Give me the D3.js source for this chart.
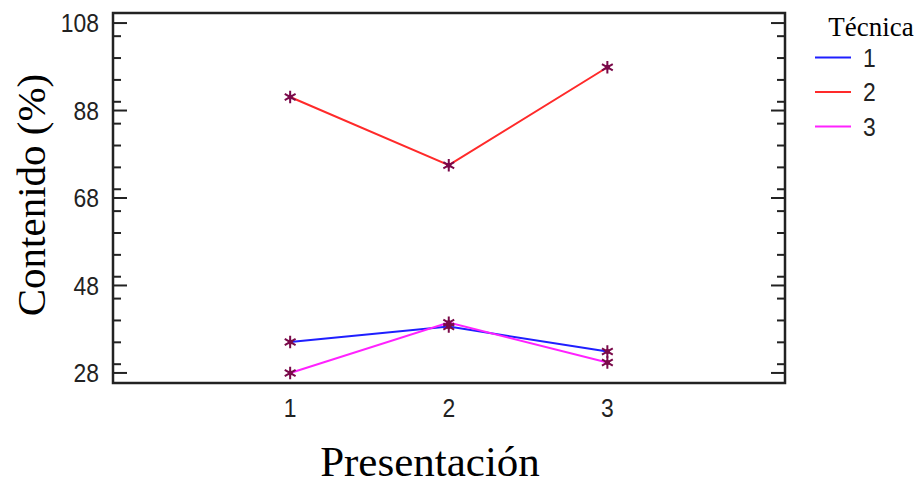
<!DOCTYPE html>
<html>
<head>
<meta charset="utf-8">
<script src="https://cdn.jsdelivr.net/npm/d3@7"></script>
<style>
  body { margin: 0; background: #fff; }
  svg { display: block; }
</style>
</head>
<body>
<div id="chart"></div>
<script>
// data
var presentaciones = [1, 2, 3];
var tecnicas = ["1", "2", "3"];
var tecnica1 = [35.1, 38.6, 32.9];
var tecnica2 = [91.1, 75.5, 97.9];
var tecnica3 = [28.0, 39.5, 30.4];
var yTicks = [28, 48, 68, 88, 108];
var colores = ["#1f1fff", "#ff2a2a", "#ff22ff"];

var series = [tecnica1, tecnica2, tecnica3];

var width = 920, height = 481;
var margin = { top: 13, right: 135, bottom: 98, left: 113 };
var w = width - margin.left - margin.right,
    h = height - margin.top - margin.bottom;

var sansFont = "Liberation Sans, Arial, sans-serif";
var serifFont = "Liberation Serif, Times New Roman, serif";

var svg = d3.select("#chart")
  .append("svg")
  .attr("width", width)
  .attr("height", height);

var g = svg.append("g")
  .attr("transform", "translate(" + margin.left + "," + margin.top + ")");

// scales
var x = d3.scaleLinear().domain([-0.117, 4.12]).range([0, w]);
var y = d3.scaleLinear().domain([25.7, 110.3]).range([h, 0]);

// minor ticks every 5
var minor = d3.range(30, 110, 5).filter(function (d) { return yTicks.indexOf(d) < 0; });

function ticks(cls, data, x1, x2) {
  g.selectAll("." + cls).data(data).enter().append("line")
    .attr("class", cls)
    .attr("x1", x1).attr("x2", x2)
    .attr("y1", function (d) { return y(d); }).attr("y2", function (d) { return y(d); })
    .attr("stroke", "#222").attr("stroke-width", 2);
}
// left + right axis ticks, pointing inward
ticks("tl-major", yTicks, 0, 14);
ticks("tl-minor", minor, 0, 8);
ticks("tr-major", yTicks, w, w - 14);
ticks("tr-minor", minor, w, w - 8);

// frame
g.append("rect")
  .attr("x", 0).attr("y", 0).attr("width", w).attr("height", h)
  .attr("fill", "none").attr("stroke", "#222").attr("stroke-width", 2.5);

// y tick labels (digits a bit narrow and tall, like the original)
g.selectAll(".ylab").data(yTicks).enter().append("text")
  .attr("transform", function (d) { return "translate(-14," + y(d) + ") scale(0.88,1)"; })
  .attr("dy", "0.36em")
  .attr("text-anchor", "end")
  .style("font-family", sansFont)
  .style("font-size", "26px")
  .style("fill", "#222")
  .text(function (d) { return d; });

// x tick labels
g.selectAll(".xlab").data(presentaciones).enter().append("text")
  .attr("transform", function (d) { return "translate(" + x(d) + "," + (h + 34) + ") scale(0.88,1)"; })
  .attr("text-anchor", "middle")
  .style("font-family", sansFont)
  .style("font-size", "26px")
  .style("fill", "#222")
  .text(function (d) { return d; });

// axis titles
svg.append("text")
  .attr("transform", "translate(45,195) rotate(-90)")
  .attr("text-anchor", "middle")
  .style("font-family", serifFont)
  .style("font-size", "41px")
  .text("Contenido (%)");

svg.append("text")
  .attr("x", 430)
  .attr("y", 476)
  .attr("text-anchor", "middle")
  .style("font-family", serifFont)
  .style("font-size", "43px")
  .text("Presentación");

// lines
var line = d3.line()
  .x(function (d, i) { return x(presentaciones[i]); })
  .y(function (d) { return y(d); });

series.forEach(function (s, k) {
  g.append("path")
    .datum(s)
    .attr("d", line)
    .attr("fill", "none")
    .attr("stroke", colores[k])
    .attr("stroke-width", 2);
});

// markers
var star = d3.symbol().type(d3.symbolAsterisk).size(110);
series.forEach(function (s) {
  var m = g.selectAll(null).data(s).enter().append("g")
    .attr("transform", function (d, i) { return "translate(" + x(presentaciones[i]) + "," + y(d) + ")"; });
  m.append("path")
    .attr("d", star)
    .attr("fill", "none")
    .attr("stroke", "#7a0a4a")
    .attr("stroke-width", 2);
  m.append("circle")
    .attr("r", 2.5)
    .attr("fill", "#7a0a4a");
});

// legend
var lg = svg.append("g");
lg.append("text")
  .attr("x", 871).attr("y", 36)
  .attr("text-anchor", "middle")
  .style("font-family", serifFont)
  .style("font-size", "27px")
  .text("Técnica");

tecnicas.forEach(function (t, k) {
  var ly = 57.5 + k * 34.5;
  lg.append("line")
    .attr("x1", 815).attr("x2", 851)
    .attr("y1", ly).attr("y2", ly)
    .attr("stroke", colores[k]).attr("stroke-width", 2);
  lg.append("text")
    .attr("transform", "translate(863," + ly + ") scale(0.88,1)")
    .attr("dy", "0.36em")
    .style("font-family", sansFont)
    .style("font-size", "26px")
    .style("fill", "#222")
    .text(t);
});
</script>
</body>
</html>
